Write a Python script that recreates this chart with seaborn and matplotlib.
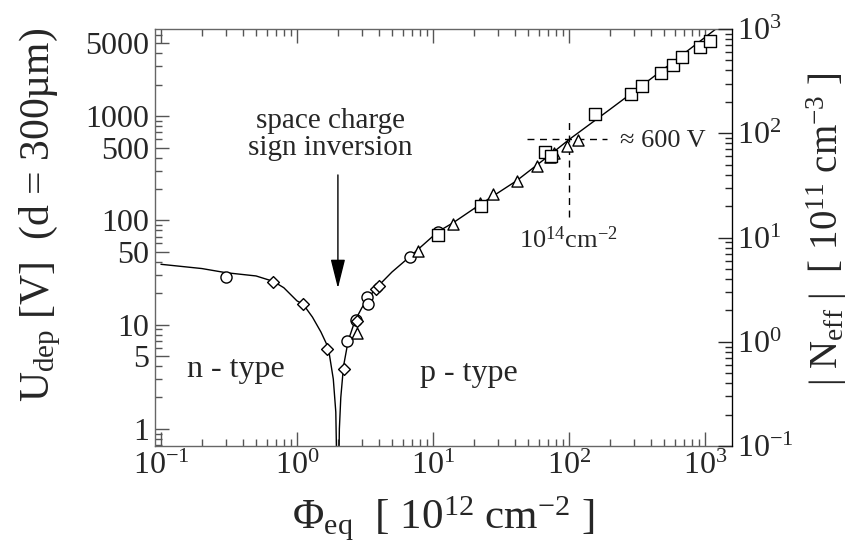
import numpy as np
import pandas as pd
import matplotlib
matplotlib.use("Agg")
import matplotlib.pyplot as plt
import seaborn as sns

# fitted curve (fluence in 1e12 cm^-2, U_dep in V)
curve_phi = [0.1, 0.2, 0.3, 0.5, 0.67, 0.8, 1.0, 1.11, 1.3, 1.5, 1.7, 1.85, 1.93, 2.0,
             2.05, 2.1, 2.2, 2.38, 2.67, 3.0, 3.35, 3.96, 5.0, 6.78, 10.9, 14.1, 22.2,
             41.2, 70, 100, 200, 400, 700, 1220]
curve_u = [37.9, 34.5, 31.5, 29.3, 26.0, 22.6, 16.9, 15.7, 11.8, 8.5, 6.0, 3.0, 1.45, 0.1,
           1.0, 2.0, 4.0, 7.0, 10.9, 14.5, 18.2, 23.5, 32, 45, 78, 95, 142,
           240, 410, 595, 1160, 2280, 3980, 6950]

# measured points, grouped by marker
circ_phi = [0.3, 2.35, 2.7, 3.3, 3.35, 6.78, 10.9]
circ_u = [28.7, 6.9, 11.0, 18.5, 15.7, 45, 78]
diam_phi = [0.67, 1.11, 1.65, 2.2, 2.75, 3.82, 4.0]
diam_u = [25.9, 15.7, 5.9, 3.75, 10.8, 22.2, 23.5]
tri_phi = [2.77, 7.8, 14.1, 22.2, 27.5, 41.2, 57.8, 72.5, 78, 96, 117]
tri_u = [8.3, 50.8, 93, 147, 178, 240, 330, 406, 445, 514, 587]
sq_phi = [10.9, 22.6, 66.6, 73.6, 155, 284, 342, 475, 579, 674, 918, 1088]
sq_u = [73, 136, 455, 415, 1057, 1630, 1930, 2590, 3110, 3730, 4590, 5200]

# 600 V / 1e14 guide lines
hline_phi = [49, 190]
hline_u = [600, 600]
vline_phi = [100, 100]
vline_u = [107, 930]

left_ticks = [1, 5, 10, 50, 100, 500, 1000, 5000]
u_per_neff = 6.85  # V per 1e11 cm^-3 for d = 300 um

sns.set_style("ticks", {"xtick.direction": "in", "ytick.direction": "in"})
plt.rcParams["font.family"] = ["Liberation Serif", "DejaVu Serif"]
plt.rcParams["mathtext.fontset"] = "custom"
plt.rcParams["mathtext.rm"] = "Liberation Serif"
plt.rcParams["mathtext.it"] = "Liberation Serif:italic"

fig = plt.figure(figsize=(8.5, 5.47), dpi=100)
ax = fig.add_axes([155 / 850, 1 - 446 / 547, (732 - 155) / 850, (446 - 29) / 547])

curve = pd.DataFrame({"phi": curve_phi, "u": curve_u})
sns.lineplot(data=curve, x="phi", y="u", ax=ax, color="black", lw=1.0,
             sort=False, estimator=None)

groups = [(circ_phi, circ_u, "o", 8), (diam_phi, diam_u, "D", 6),
          (tri_phi, tri_u, "^", 8), (sq_phi, sq_u, "s", 9)]
for px, py, mk, ms in groups:
    sns.scatterplot(x=px, y=py, ax=ax, marker=mk, s=ms ** 2, facecolor="white",
                    edgecolor="black", linewidth=1.0, zorder=3)

ax.plot(hline_phi, hline_u, color="black", ls="--", lw=1.0, dashes=(5, 4))
ax.plot(vline_phi, vline_u, color="black", ls="--", lw=1.0, dashes=(5, 4))

ax.set_xscale("log")
ax.set_yscale("log")
ax.set_xlim(0.0904, 1580)
ax.set_ylim(0.1 * u_per_neff, 1000 * u_per_neff)
ax.set_yticks(left_ticks)
ax.set_yticklabels([str(t) for t in left_ticks])
ax.tick_params(axis="both", which="major", labelsize=23, length=10, width=1,
               color="#555555", top=True, pad=4)
ax.tick_params(axis="both", which="minor", length=5, width=1, color="#555555",
               top=True)
ax.tick_params(axis="y", right=False, which="both")
for s in ax.spines.values():
    s.set_color("#666666")
    s.set_linewidth(1.0)

ax.set_xlabel(r"Φ$_{\rm eq}$  [ 10$^{12}$ cm$^{-2}$ ]", fontsize=31, labelpad=10)
ax.set_ylabel(r"U$_{\rm dep}$ [V]  (d = 300µm)", fontsize=30)
ax.yaxis.set_label_coords(-0.16, 0.555)

ax2 = ax.twinx()
ax2.set_yscale("log")
ax2.set_ylim(0.1, 1000)
ax2.tick_params(axis="y", which="major", labelsize=23, length=10, width=1)
ax2.tick_params(axis="y", which="minor", length=5, width=1)
for k in ["left", "top", "bottom"]:
    ax2.spines[k].set_visible(False)
ax2.spines["right"].set_color("black")
ax2.set_ylabel(r"| N$_{\rm eff}$ |  [ 10$^{11}$ cm$^{-3}$ ]", fontsize=28, labelpad=8)
ax2.yaxis.set_label_coords(1.125, 0.52)

ax.annotate("", xy=(2.0, 21), xytext=(2.0, 290),
            arrowprops=dict(arrowstyle="-|>,head_length=1.8,head_width=0.45",
                            color="black", lw=1.0, mutation_scale=10))
ax.text(1.75, 665, "space charge\nsign inversion", ha="center", va="center",
        fontsize=21, linespacing=1.05)
ax.text(0.356, 3.75, "n - type", ha="center", va="center", fontsize=23)
ax.text(18.4, 3.36, "p - type", ha="center", va="center", fontsize=23)
ax.text(237, 583, "≈ 600 V", ha="left", va="center", fontsize=19)
ax.text(98.5, 66, r"10$^{14}$cm$^{-2}$", ha="center", va="center", fontsize=19)

fig.savefig("out.png", dpi=100)
